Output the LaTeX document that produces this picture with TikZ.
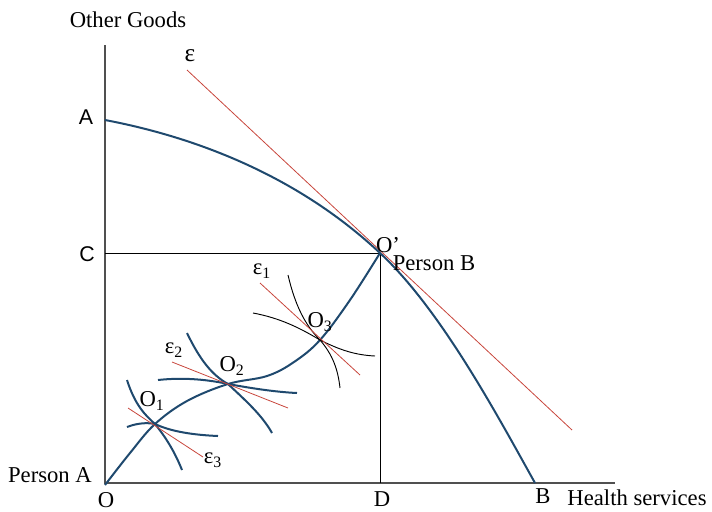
\documentclass[tikz,border=0pt]{standalone}
\usepackage{fontspec}
\setmainfont{Liberation Serif}
\newfontfamily\labsans{Liberation Sans}
\definecolor{curveblue}{RGB}{31,73,110}
\definecolor{tanred}{RGB}{200,70,60}
\definecolor{axisgray}{RGB}{80,80,80}
\begin{document}
\begin{tikzpicture}[x=0.75pt,y=-0.75pt,
  axisline/.style={axisgray,line width=0.9pt},
  guide/.style={black,line width=0.6pt},
  bluec/.style={curveblue,line width=1.5pt},
  thinc/.style={black,line width=0.7pt},
  redl/.style={tanred,line width=0.6pt},
  lab/.style={font=\fontsize{17}{20}\selectfont,inner sep=0pt},
  slab/.style={font=\labsans\fontsize{16}{19}\selectfont,inner sep=0pt}]
\useasboundingbox (0,0) rectangle (712,511);
% key points
\coordinate (yt) at (105,45);
\coordinate (O) at (105,483);
\coordinate (xe) at (615,483);
\coordinate (A) at (105,120);
\coordinate (Op) at (380,253);
\coordinate (B) at (535,483);
\coordinate (C) at (105,253);
\coordinate (D) at (380,483);
\coordinate (o1) at (155,424);
\coordinate (o2) at (228,384);
\coordinate (o3) at (320,340);
% axes
\draw[axisline] (yt) -- (O) -- (xe);
% guides
\draw[guide] (C) -- (Op) -- (D);
% tangent epsilon
\coordinate (e0) at (187,70);
\coordinate (e1) at (572,430);
\draw[redl] (e0) -- (e1);
% frontier
\draw[bluec] (A) .. controls (200,138) and (300,178) .. (Op)
  .. controls (440,309) and (495,411) .. (B);
% contract curve
\draw[bluec] plot[smooth,tension=0.6] coordinates {(105,485) (130,453) (o1) (187,401) (o2) (267,376) (294,362) (o3) (350,300) (Op)};
% O1 curves
\draw[bluec] (127,380) .. controls (135,405) and (145,415) .. (o1) .. controls (168,440) and (176,455) .. (182,470);
\draw[bluec] (127,427) .. controls (140,422) and (150,423) .. (o1) .. controls (172,432) and (195,435) .. (218,436);
\draw[redl] (128,408) -- (203,457);
% O2 curves
\draw[bluec] (187,333) .. controls (200,360) and (212,375) .. (o2) .. controls (245,400) and (262,415) .. (272,433);
\draw[bluec] (158,380) .. controls (185,377) and (210,380) .. (o2) .. controls (250,388) and (275,392) .. (297,393);
\draw[redl] (172,362) -- (288,408);
% O3 curves
\draw[thinc] (288,275) .. controls (295,305) and (305,325) .. (o3) .. controls (333,355) and (338,370) .. (340,388);
\draw[thinc] (253,313) .. controls (280,318) and (300,328) .. (o3) .. controls (340,350) and (355,355) .. (375,356);
\draw[redl] (260,283) -- (360,375);
% labels
\node[lab] (tOG) at (128,20) {Other Goods};
\node[lab] (teps) at (190,56) {\fontsize{19}{20}\selectfont ε};
\node[slab] (tA) at (86,117) {A};
\node[slab] (tC) at (87,254) {C};
\node[lab] (tOp) at (388,245) {O’};
\node[lab] (tPB) at (434,263) {Person B};
\node[lab] (te1) at (262,271) {ε\textsubscript{1}};
\node[lab] (tO3) at (320,322) {O\textsubscript{3}};
\node[lab] (te2) at (174,350) {ε\textsubscript{2}};
\node[lab] (tO2) at (232,366) {O\textsubscript{2}};
\node[lab] (tO1) at (152,401) {O\textsubscript{1}};
\node[lab] (te3) at (213,460) {ε\textsubscript{3}};
\node[lab] (tPA) at (50,475) {Person A};
\node[lab] (tO) at (106,500) {O};
\node[lab] (tD) at (382,499) {D};
\node[lab] (tB) at (543,496) {B};
\node[lab] (tHS) at (637,498) {Health services};
\end{tikzpicture}
\end{document}
